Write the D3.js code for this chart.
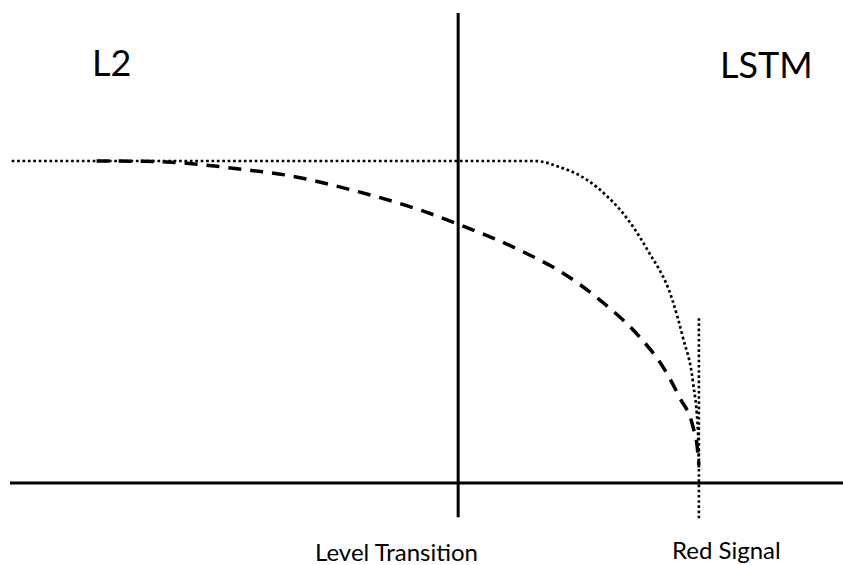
<!DOCTYPE html>
<html>
<head>
<meta charset="utf-8">
<script src="https://cdn.jsdelivr.net/npm/d3@7"></script>
<style>
  html, body { margin: 0; padding: 0; background: #fff; }
  svg { display: block; }
  text { font-family: Lato, "Open Sans", sans-serif; fill: #000; }
</style>
</head>
<body>
<svg id="chart" width="843" height="565"></svg>
<script>
// ---- data (abstract units: time 0..100, level 0..100) ----
const dashedX = [10.4, 16.0, 21.2, 26.0, 29.2, 33.2, 41.0, 49.2, 53.8, 61.2, 66.5, 71.2, 75.6, 78.4, 80.4, 82.0, 82.5, 82.7];
const dashedY = [100, 99.9, 99.3, 98.0, 97.0, 95.6, 91.0, 84.8, 80.4, 72.3, 65.0, 56.0, 45.3, 36.0, 26.5, 17.4, 11.2, 5.6];
const dottedX = [0.2, 63.0, 66.0, 69.3, 71.7, 73.2, 76.5, 79.5, 80.8, 82.0, 82.6, 82.7];
const dottedY = [100, 100, 98.1, 94.1, 89.0, 85.0, 72.5, 57.0, 45.0, 31.1, 15.5, 4.0];
const transitionX = 53.8;
const transitionRange = [146, -10.6];
const signalX = 82.7;
const signalRange = [51.2, -11.5];
const regionLabels = ["L2", "LSTM"];
const eventLabels = ["Level Transition", "Red Signal"];

const svg = d3.select("#chart");
const x = d3.scaleLinear().domain([0, 100]).range([10, 843]);
const y = d3.scaleLinear().domain([0, 100]).range([483, 161]);

// horizontal axis line
svg.append("line")
  .attr("x1", x(0)).attr("x2", x(100))
  .attr("y1", y(0)).attr("y2", y(0))
  .attr("stroke", "#000").attr("stroke-width", 3);

// vertical level transition line
svg.append("line")
  .attr("x1", x(transitionX)).attr("x2", x(transitionX))
  .attr("y1", y(transitionRange[0])).attr("y2", y(transitionRange[1]))
  .attr("stroke", "#000").attr("stroke-width", 3);

// red signal dotted vertical
svg.append("line")
  .attr("x1", x(signalX)).attr("x2", x(signalX))
  .attr("y1", y(signalRange[0])).attr("y2", y(signalRange[1]))
  .attr("stroke", "#000").attr("stroke-width", 2.6)
  .attr("stroke-dasharray", "2.6,2.6");

const line = d3.line()
  .x(d => x(d[0])).y(d => y(d[1]))
  .curve(d3.curveMonotoneX);

const dotted = dottedX.map((v, i) => [v, dottedY[i]]);
const dashed = dashedX.map((v, i) => [v, dashedY[i]]);

svg.append("path")
  .attr("d", line(dotted))
  .attr("fill", "none").attr("stroke", "#000")
  .attr("stroke-width", 2.7).attr("stroke-dasharray", "2.7,2.7");

svg.append("path")
  .attr("d", line(dashed))
  .attr("fill", "none").attr("stroke", "#000")
  .attr("stroke-width", 3.5).attr("stroke-dasharray", "13,9");

// region labels
svg.append("text").attr("x", 92).attr("y", 76)
  .attr("font-size", 36).text(regionLabels[0]);
svg.append("text").attr("x", 720).attr("y", 78)
  .attr("font-size", 36).text(regionLabels[1]);

// event labels
svg.append("text").attr("x", 315).attr("y", 561)
  .attr("font-size", 24).text(eventLabels[0]);
svg.append("text").attr("x", 672).attr("y", 559)
  .attr("font-size", 24).text(eventLabels[1]);
</script>
</body>
</html>
